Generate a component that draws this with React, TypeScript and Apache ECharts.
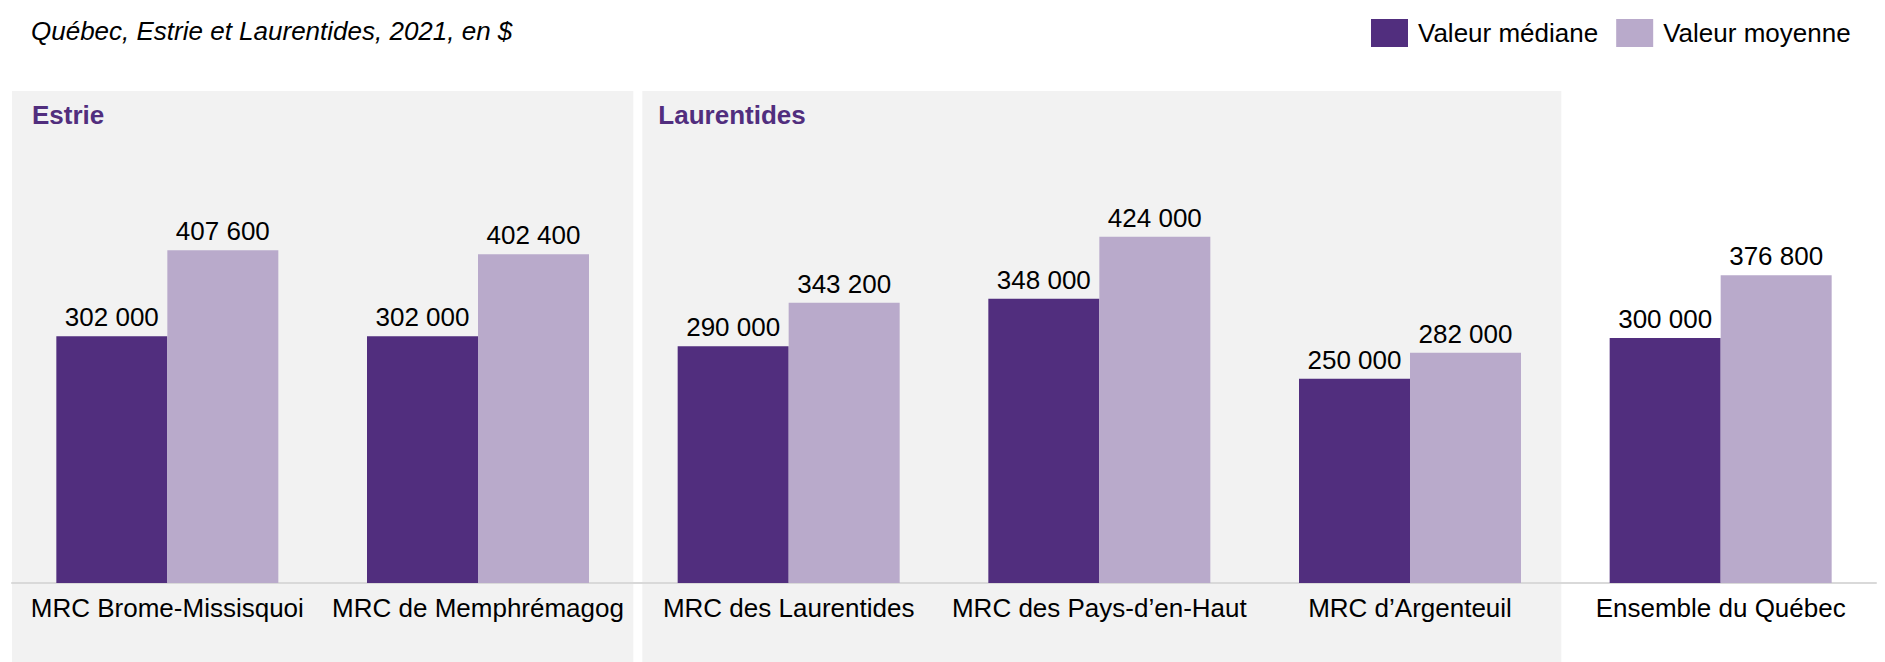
import React, { useEffect, useRef } from "react";
import * as echarts from "echarts";

const categories = [
  "MRC Brome-Missisquoi",
  "MRC de Memphrémagog",
  "MRC des Laurentides",
  "MRC des Pays-d’en-Haut",
  "MRC d’Argenteuil",
  "Ensemble du Québec",
];
const medianValues = [302000, 302000, 290000, 348000, 250000, 300000];
const meanValues = [407600, 402400, 343200, 424000, 282000, 376800];
const seriesNames = ["Valeur médiane", "Valeur moyenne"];
const regions = [
  { name: "Estrie", from: 0, to: 1 },
  { name: "Laurentides", from: 2, to: 4 },
];
const titleText = "Québec, Estrie et Laurentides, 2021, en $";

const FONT = "'Liberation Sans', Arial, Helvetica, sans-serif";
const DARK = "#512E7E";
const LIGHT = "#B9AACB";
const PANEL = "#F2F2F2";

const fmt = (v: number) => String(v).replace(/\B(?=(\d{3})+(?!\d))/g, " ");

export default function App() {
  const ref = useRef<HTMLDivElement>(null);
  useEffect(() => {
    if (!ref.current) return;
    const chart = echarts.init(ref.current, undefined, { renderer: "svg" });
    const labelCfg = {
      show: true,
      position: "top" as const,
      distance: 6,
      fontSize: 26,
      color: "#000",
      fontFamily: FONT,
      formatter: (p: any) => fmt(p.value),
    };
    chart.setOption({
      animation: false,
      backgroundColor: "#fff",
      title: {
        text: titleText,
        left: 26,
        top: 13,
        textStyle: {
          fontSize: 26,
          fontStyle: "italic",
          fontWeight: "normal",
          color: "#000",
          fontFamily: FONT,
        },
      },
      legend: {
        left: 1366,
        top: 14,
        itemWidth: 37,
        itemHeight: 28,
        itemGap: 18,
        icon: "rect",
        data: seriesNames,
        textStyle: {
          fontSize: 26,
          color: "#000",
          fontFamily: FONT,
          padding: [0, 0, 0, 5],
        },
      },
      grid: { left: 12, right: 9, top: 93, bottom: 79, containLabel: false },
      xAxis: {
        type: "category",
        data: categories,
        axisLine: { show: true, lineStyle: { color: "#D9D9D9", width: 2 } },
        axisTick: { show: false },
        axisLabel: {
          fontSize: 26,
          color: "#000",
          fontFamily: FONT,
          margin: 12,
          interval: 0,
        },
      },
      yAxis: {
        type: "value",
        min: 0,
        max: 600000,
        show: false,
        splitLine: { show: false },
      },
      series: [
        {
          name: seriesNames[0],
          type: "bar",
          data: medianValues,
          barWidth: 111,
          barGap: "0%",
          itemStyle: { color: DARK },
          label: labelCfg,
          z: 5,
        },
        {
          name: seriesNames[1],
          type: "bar",
          data: meanValues,
          barWidth: 111,
          barGap: "0%",
          itemStyle: { color: LIGHT },
          label: labelCfg,
          z: 5,
        },
      ],
    });

    // background panels computed from the category axis
    const c0 = chart.convertToPixel({ xAxisIndex: 0 }, categories[0]) as number;
    const c1 = chart.convertToPixel({ xAxisIndex: 0 }, categories[1]) as number;
    const band = c1 - c0;
    const edge = (i: number) => c0 - band / 2 + i * band;
    const H = 662;
    const elements: any[] = [];
    regions.forEach((r, idx) => {
      const x0 = edge(r.from) + (idx === 0 ? 0 : 9);
      const x1 = edge(r.to + 1) - (idx === 0 ? 0 : 4);
      elements.push({
        type: "rect",
        silent: true,
        z: -10,
        shape: { x: x0, y: 91, width: x1 - x0, height: H - 91 },
        style: { fill: PANEL },
      });
      elements.push({
        type: "text",
        silent: true,
        z: -5,
        x: x0 + (idx === 0 ? 20 : 16),
        y: 102,
        style: {
          text: r.name,
          fill: DARK,
          font: `bold 26px ${FONT}`,
          textVerticalAlign: "top",
        },
      });
    });
    chart.setOption({ graphic: { elements } });

    return () => chart.dispose();
  }, []);
  return (
    <div
      ref={ref}
      style={{ position: "absolute", left: 0, top: 0, width: 1885, height: 662 }}
    />
  );
}
